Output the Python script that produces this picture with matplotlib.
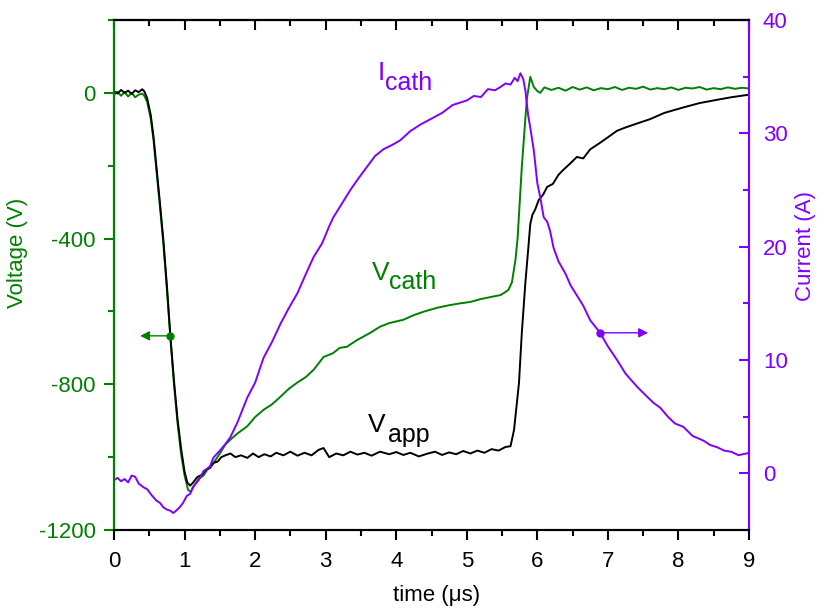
import matplotlib
matplotlib.use("Agg")
import matplotlib.pyplot as plt
from matplotlib.ticker import MultipleLocator

plt.rcParams['font.family'] = ['Liberation Sans', 'DejaVu Sans']
plt.rcParams['axes.unicode_minus'] = False

GREEN = '#008000'
PURPLE = '#8000ff'

# applied voltage V_app (V) vs time (us)
t_app = [0.00, 0.05, 0.10, 0.15, 0.20, 0.25, 0.30, 0.35, 0.40, 0.43, 0.47, 0.52, 0.56, 0.60,
         0.65, 0.70, 0.75, 0.80, 0.85, 0.90, 0.95, 1.00, 1.04, 1.08, 1.12, 1.18, 1.25, 1.30,
         1.36, 1.41, 1.47, 1.52, 1.58, 1.65, 1.72, 1.80, 1.89, 1.97, 2.05, 2.13, 2.22, 2.30,
         2.40, 2.50, 2.60, 2.70, 2.80, 2.90, 2.97, 3.05, 3.15, 3.25, 3.35, 3.45, 3.55, 3.65,
         3.77, 3.90, 4.00, 4.10, 4.20, 4.32, 4.45, 4.55, 4.65, 4.75, 4.85, 4.95, 5.05, 5.15,
         5.25, 5.35, 5.45, 5.55, 5.62, 5.67, 5.74, 5.78, 5.83, 5.87, 5.90, 5.93, 5.97, 6.02,
         6.08, 6.14, 6.22, 6.30, 6.37, 6.46, 6.56, 6.65, 6.75, 6.89, 7.00, 7.13, 7.25, 7.40,
         7.60, 7.80, 8.07, 8.30, 8.55, 8.75, 9.00]
v_app = [5, -2, 8, 0, 6, -3, 7, 2, 10, 4, -15, -60, -120, -200,
         -300, -405, -530, -670, -790, -895, -975, -1040, -1070, -1078, -1070, -1055, -1048, -1035,
         -1030, -1016, -1012, -1000, -995, -990, -1000, -995, -1002, -990, -1000, -992, -998, -988,
         -995, -985, -996, -988, -995, -980, -975, -1000, -990, -995, -985, -993, -988, -996,
         -985, -992, -986, -994, -988, -998, -990, -985, -994, -987, -992, -983, -990, -982,
         -988, -978, -982, -972, -970, -925, -796, -659, -522, -431, -360, -335, -320, -294,
         -280, -258, -250, -225, -211, -195, -176, -180, -155, -137, -122, -104, -95, -85,
         -72, -55, -40, -28, -19, -12, -5]

# cathode voltage V_cath (V) vs time (us)
t_cath = [0.00, 0.05, 0.10, 0.15, 0.20, 0.25, 0.30, 0.35, 0.40, 0.43, 0.47, 0.52, 0.56, 0.60,
          0.65, 0.70, 0.75, 0.80, 0.85, 0.90, 0.95, 1.00, 1.05, 1.09, 1.13, 1.20, 1.27, 1.32,
          1.41, 1.50, 1.58, 1.65, 1.75, 1.89, 2.00, 2.12, 2.24, 2.36, 2.48, 2.60, 2.72, 2.83,
          2.97, 3.10, 3.20, 3.30, 3.45, 3.63, 3.77, 3.90, 4.10, 4.25, 4.40, 4.58, 4.75, 4.90,
          5.05, 5.20, 5.35, 5.48, 5.59, 5.64, 5.69, 5.72, 5.78, 5.85, 5.90, 5.95, 6.00, 6.04,
          6.10, 6.20, 6.30, 6.40, 6.50, 6.60, 6.70, 6.80, 6.90, 7.00, 7.10, 7.20, 7.30, 7.40,
          7.50, 7.60, 7.70, 7.80, 7.90, 8.00, 8.10, 8.20, 8.30, 8.40, 8.50, 8.60, 8.70, 8.80,
          8.90, 9.00]
v_cath = [-5, 3, -8, 2, -10, 0, -12, -5, -2, -8, -25, -70, -130, -210,
          -310, -415, -540, -675, -800, -905, -990, -1050, -1090, -1095, -1080, -1060, -1050, -1035,
          -1016, -990, -965, -952, -935, -915, -890, -870, -855, -834, -812, -795, -780, -760,
          -725, -715, -700, -697, -678, -659, -642, -632, -623, -610, -600, -590, -583, -578,
          -574, -566, -560, -555, -541, -520, -458, -400, -203, -19, 44, 16, 5, 0,
          15, 8, 14, 6, 16, 9, 15, 7, 13, 10, 16, 8, 14, 11,
          17, 9, 13, 10, 15, 8, 14, 12, 16, 9, 13, 10, 15, 11,
          14, 12]

# cathode current I_cath (A) vs time (us)
t_cur = [0.00, 0.05, 0.10, 0.15, 0.20, 0.25, 0.30, 0.35, 0.41, 0.47, 0.53, 0.60, 0.65, 0.70,
         0.75, 0.80, 0.84, 0.88, 0.93, 0.98, 1.03, 1.08, 1.12, 1.20, 1.27, 1.36, 1.41, 1.50,
         1.58, 1.65, 1.75, 1.89, 2.00, 2.12, 2.24, 2.36, 2.48, 2.60, 2.72, 2.83, 2.95, 3.05,
         3.11, 3.20, 3.35, 3.45, 3.58, 3.70, 3.82, 3.95, 4.06, 4.20, 4.35, 4.53, 4.65, 4.80,
         5.00, 5.10, 5.20, 5.30, 5.40, 5.48, 5.55, 5.62, 5.68, 5.72, 5.76, 5.80, 5.83, 5.87,
         5.90, 5.95, 6.00, 6.04, 6.09, 6.14, 6.18, 6.23, 6.30, 6.40, 6.47, 6.57, 6.65, 6.75,
         6.89, 7.00, 7.13, 7.25, 7.42, 7.55, 7.65, 7.74, 7.85, 7.95, 8.07, 8.20, 8.35, 8.45,
         8.55, 8.65, 8.75, 8.85, 9.00]
i_cath = [-0.6, -0.4, -0.7, -0.5, -0.8, -0.2, -0.3, -0.9, -1.2, -1.4, -1.9, -2.4, -2.6, -3.0,
          -3.2, -3.3, -3.5, -3.3, -3.0, -2.6, -2.0, -1.8, -1.2, -0.6, 0.2, 0.6, 1.4, 2.0,
          2.6, 3.2, 4.5, 6.7, 8.0, 10.2, 11.6, 13.2, 14.6, 15.9, 17.6, 19.1, 20.3, 21.8,
          22.6, 23.5, 25.0, 25.9, 27.0, 28.0, 28.6, 29.0, 29.4, 30.2, 30.8, 31.4, 31.8, 32.5,
          32.9, 33.3, 33.2, 33.9, 33.8, 34.1, 34.4, 34.3, 34.9, 34.6, 35.3, 34.8, 33.8, 31.6,
          30.5, 28.5, 25.6, 24.4, 22.6, 22.2, 21.4, 19.9, 18.7, 17.6, 16.6, 15.6, 14.8, 13.5,
          12.4, 11.2, 10.0, 8.8, 7.6, 6.8, 6.2, 5.8, 5.0, 4.4, 4.1, 3.3, 2.9, 2.5,
          2.3, 2.0, 1.9, 1.6, 1.8]

fig = plt.figure(figsize=(8.27, 6.14), dpi=100)
ax = fig.add_axes([114 / 827, 84 / 614, 635 / 827, 510 / 614])
ax2 = ax.twinx()

ax.plot(t_cath, v_cath, color=GREEN, lw=1.4, zorder=2)
ax.plot(t_app, v_app, color='black', lw=1.4, zorder=3)
ax2.plot(t_cur, i_cath, color=PURPLE, lw=1.4)

ax.set_xlim(0, 9)
ax.set_ylim(-1200, 200)
ax2.set_ylim(-5, 40)

ax.xaxis.set_major_locator(MultipleLocator(1))
ax.xaxis.set_minor_locator(MultipleLocator(0.5))
ax.yaxis.set_major_locator(MultipleLocator(400))
ax.yaxis.set_minor_locator(MultipleLocator(200))
ax2.yaxis.set_major_locator(MultipleLocator(10))
ax2.yaxis.set_minor_locator(MultipleLocator(5))

ax.tick_params(axis='x', which='both', direction='out', top=False, labelsize=16, width=1.5,
               colors='black', pad=8)
ax.tick_params(axis='x', which='major', length=7)
ax.tick_params(axis='x', which='minor', length=4)
ax.tick_params(axis='y', which='both', direction='out', width=1.5, colors=GREEN, labelsize=16, pad=6)
ax.tick_params(axis='y', which='major', length=7)
ax.tick_params(axis='y', which='minor', length=4)
ax2.tick_params(axis='y', which='both', direction='in', width=1.5, colors=PURPLE, labelsize=16, pad=10)
ax2.tick_params(axis='y', which='major', length=7)
ax2.tick_params(axis='y', which='minor', length=4)

# mirror ticks on the top edge, pointing inward
top = ax.secondary_xaxis('top')
top.xaxis.set_major_locator(MultipleLocator(1))
top.xaxis.set_minor_locator(MultipleLocator(0.5))
top.tick_params(which='both', direction='in', width=1.5, labeltop=False)
top.tick_params(which='major', length=7)
top.tick_params(which='minor', length=4)
top.spines['top'].set_linewidth(1.5)

for a in (ax, ax2):
    a.spines['left'].set_color(GREEN)
    a.spines['right'].set_color(PURPLE)
    for s in a.spines.values():
        s.set_linewidth(1.5)

fig.text(437 / 827, 1 - 595 / 614, 'time (μs)', ha='center', va='center', fontsize=16)
fig.text(18 / 827, 1 - 253 / 614, 'Voltage (V)', ha='center', va='center', rotation=90,
         fontsize=16, color=GREEN)
fig.text(806 / 827, 1 - 246 / 614, 'Current (A)', ha='center', va='center', rotation=90,
         fontsize=16, color=PURPLE)

# curve labels
ax.text(3.60, -930, 'V', fontsize=19, color='black', ha='left', va='baseline')
ax.text(3.89, -958, 'app', fontsize=18, color='black', ha='left', va='baseline')
ax.text(3.66, -513, 'V', fontsize=19, color=GREEN, ha='left', va='baseline')
ax.text(3.90, -538, 'cath', fontsize=18, color=GREEN, ha='left', va='baseline')
ax.text(3.73, 36, 'I', fontsize=19, color=PURPLE, ha='left', va='baseline')
ax.text(3.84, 8, 'cath', fontsize=18, color=PURPLE, ha='left', va='baseline')

# axis-pointer arrows
ax.annotate('', xy=(0.37, -667), xytext=(0.79, -667),
            arrowprops=dict(arrowstyle='-|>', color=GREEN, lw=1, mutation_scale=14, shrinkA=0, shrinkB=0))
ax.plot([0.79], [-667], 'o', color=GREEN, ms=5, zorder=5)
ax2.annotate('', xy=(7.57, 12.4), xytext=(6.89, 12.4),
             arrowprops=dict(arrowstyle='-|>', color=PURPLE, lw=1, mutation_scale=14, shrinkA=0, shrinkB=0))
ax2.plot([6.89], [12.4], 'o', color=PURPLE, ms=5)

fig.savefig('out.png', dpi=100)
